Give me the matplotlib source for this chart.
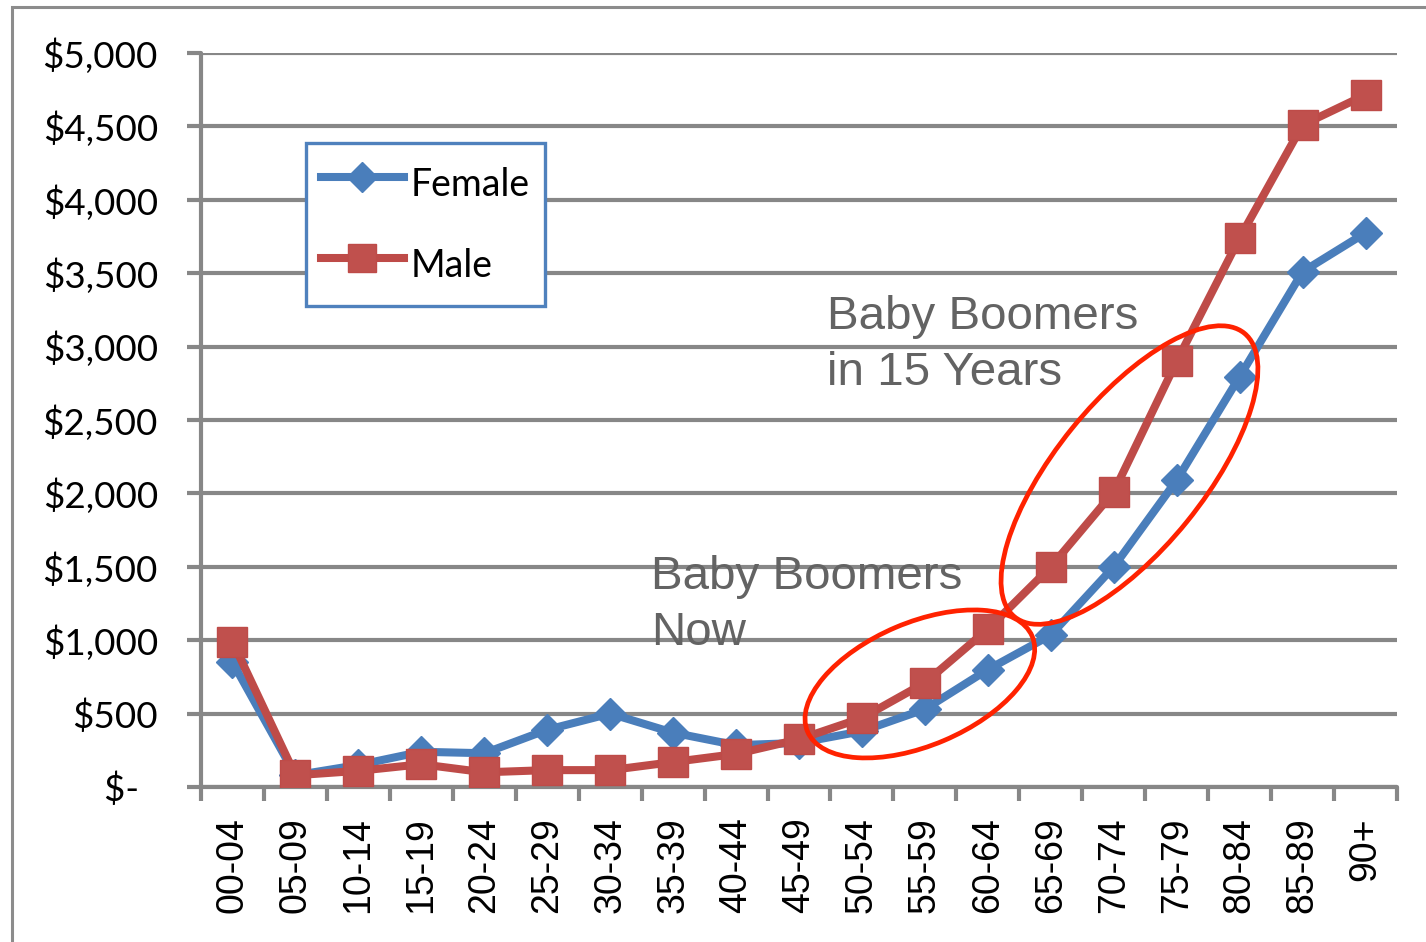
import matplotlib
matplotlib.use("Agg")
import matplotlib.pyplot as plt
import matplotlib.transforms as mtransforms
from matplotlib.patches import Ellipse, Rectangle
from matplotlib.ticker import FixedLocator, FuncFormatter

categories = ["00-04", "05-09", "10-14", "15-19", "20-24", "25-29", "30-34",
              "35-39", "40-44", "45-49", "50-54", "55-59", "60-64", "65-69",
              "70-74", "75-79", "80-84", "85-89", "90+"]
female = [850, 80, 150, 240, 230, 390, 500, 370, 285, 300, 380, 530, 800,
          1035, 1500, 2090, 2795, 3510, 3775]
male = [990, 80, 110, 155, 100, 115, 115, 170, 225, 325, 470, 710, 1075,
        1500, 2010, 2900, 3740, 4510, 4715]
y_ticks = [0, 500, 1000, 1500, 2000, 2500, 3000, 3500, 4000, 4500, 5000]

W, H = 1426, 942
fig = plt.figure(figsize=(W / 100, H / 100), dpi=100)
fig.patch.set_facecolor("white")

# outer chart border
fig.add_artist(Rectangle((12 / W, -0.05), 1.2, 1 - 7 / H + 0.05,
                         transform=fig.transFigure, fill=False,
                         edgecolor="#8c8c8c", linewidth=2.2))

ax = fig.add_axes([201 / W, 1 - 787 / H, (1397 - 201) / W, (787 - 53) / H])
grid_c = "#878787"
x = list(range(len(categories)))

ax.set_xlim(-0.5, len(categories) - 0.5)
ax.set_ylim(0, 5000)

for s in ["top", "right"]:
    ax.spines[s].set_visible(False)
for s in ["left", "bottom"]:
    ax.spines[s].set_color(grid_c)
    ax.spines[s].set_linewidth(3)
    ax.spines[s].set_capstyle("round")

ax.yaxis.set_major_locator(FixedLocator(y_ticks))
ax.yaxis.set_major_formatter(FuncFormatter(
    lambda v, p: "$-  " if v == 0 else "${:,.0f}".format(v)))
ax.yaxis.grid(True, color=grid_c, linewidth=3, solid_capstyle="round")
ax.set_axisbelow(True)
ax.tick_params(axis="y", length=10, width=3, color=grid_c, direction="out",
               pad=21, labelsize=26.5)
for lab in ax.get_yticklabels():
    lab.set_fontfamily("Lato")

ax.set_xticks(x)
ax.set_xticklabels(categories, rotation=90, fontfamily="Liberation Sans",
                   fontsize=27)
ax.set_xticks([i - 0.5 for i in range(len(categories) + 1)], minor=True)
ax.tick_params(axis="x", which="major", length=0, pad=22)
ax.tick_params(axis="x", which="minor", length=10, width=3, color=grid_c,
               direction="out")

blue = "#4A7EBB"
red = "#BE4B48"
ax.plot(x, female, color=blue, linewidth=5.8, marker="D", markersize=16.5,
        markerfacecolor=blue, markeredgecolor=blue, label="Female", zorder=3)
ax.plot(x, male, color=red, linewidth=5.8, marker="s", markersize=22,
        markerfacecolor="#C0504D", markeredgecolor=red, label="Male", zorder=4)

# annotations
txt_c = "#636363"
ax.text(6.65, 1580, "Baby Boomers\nNow", fontsize=34.2, color=txt_c,
        fontfamily="Liberation Sans", va="top", ha="left", zorder=5,
        linespacing=1.36)
ax.text(9.45, 3350, "Baby Boomers\nin 15 Years", fontsize=34.2, color=txt_c,
        fontfamily="Liberation Sans", va="top", ha="left", zorder=5,
        linespacing=1.36)

ell_c = "#FF2200"
for cx, cy, w, h, ang in [(10.92, 702, 244, 123, 23),
                          (14.25, 2125, 365, 148, 51)]:
    tr = mtransforms.ScaledTranslation(cx, cy, ax.transData)
    e = Ellipse((0, 0), w, h, angle=ang, transform=tr, fill=False,
                edgecolor=ell_c, linewidth=3.4, zorder=6, clip_on=False)
    ax.add_artist(e)

leg = ax.legend(loc="upper left",
                bbox_to_anchor=(306 / W, 1 - 143 / H),
                bbox_transform=fig.transFigure,
                prop={"family": "Lato", "size": 27},
                frameon=True, fancybox=False, handlelength=2.2,
                handleheight=1.75, handletextpad=0.2, labelspacing=0.77,
                borderpad=0.4, borderaxespad=0, markerscale=0.9)
fr = leg.get_frame()
fr.set_edgecolor("#4F81BD")
fr.set_linewidth(2.4)
fr.set_facecolor("white")
fr.set_alpha(1)
leg.set_zorder(7)

fig.savefig("out.png", dpi=100)
